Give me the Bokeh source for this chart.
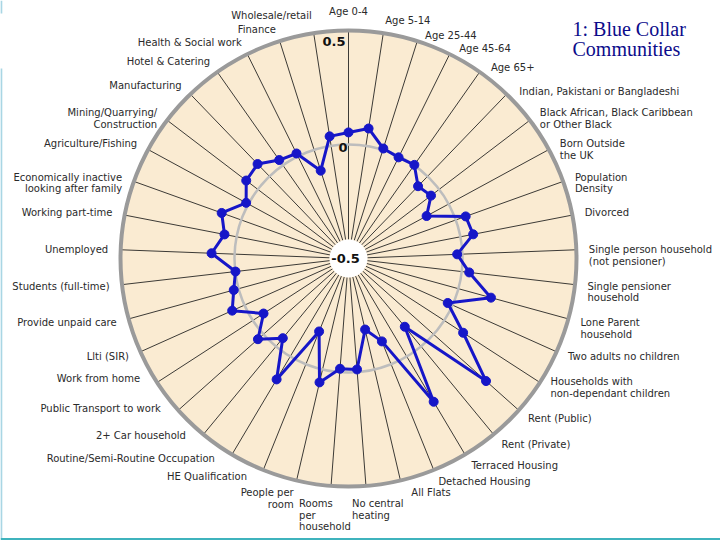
import numpy as np
from bokeh.plotting import figure
from bokeh.models import Range1d
from bokeh.core.properties import value
from bokeh.embed import file_html
from bokeh.resources import INLINE

# ---------------- data ----------------
variables = [
    "Age 0-4", "Age 5-14", "Age 25-44", "Age 45-64", "Age 65+",
    "Indian, Pakistani or Bangladeshi",
    "Black African, Black Caribbean\n or Other Black",
    "Born Outside\n the UK", "Population\nDensity", "Divorced",
    "Single person household\n (not pensioner)",
    "Single pensioner\n household", "Lone Parent\n household",
    "Two adults no children",
    "Households with\nnon-dependant children",
    "Rent (Public)", "Rent (Private)", "Terraced Housing",
    "Detached Housing", "All Flats", "No central\n heating",
    "Rooms\nper\nhousehold", "People per\nroom", "HE Qualification",
    "Routine/Semi-Routine Occupation", "2+ Car household",
    "Public Transport to work", "Work from home", "Llti (SIR)",
    "Provide unpaid care", "Students (full-time)", "Unemployed",
    "Working part-time",
    "Economically inactive\nlooking after family",
    "Agriculture/Fishing", "Mining/Quarrying/\nConstruction",
    "Manufacturing", "Hotel & Catering", "Health & Social work",
    "Finance", "Wholesale/retail",
]
values = [
    0.053, 0.077, 0.006, -0.005, 0.002,
    -0.060, -0.045, -0.110, 0.046, 0.057,
    -0.023, 0.033, 0.148, -0.023, 0.099,
    0.308, -0.112, 0.231, -0.108, -0.180,
    -0.012, -0.015, 0.058, -0.155, 0.117,
    -0.047, 0.032, -0.056, 0.059, 0.022,
    -0.001, 0.101, 0.054, 0.091, 0.011,
    0.064, 0.075, 0.028, 0.014, -0.096,
    0.042,
]
radial_min, radial_max = -0.5, 0.5
radial_ticks = [-0.5, 0, 0.5]
radial_tick_labels = ["-0.5", "0", "0.5"]
title_lines = ["1: Blue Collar", "Communities"]

# ---------------- layout ----------------
W, H = 720, 540
S = 228.0            # pixels per radial unit
CX, CY = 348, 258    # centre of the radar, in figure pixels from top-left


def rad(v):
    return (np.asarray(v, dtype=float) - radial_min) / (radial_max - radial_min)


def px(xr, yr):
    # figure pixel -> data coordinates
    return (xr - CX) / S, (CY - yr) / S


p = figure(width=W, height=H,
           x_range=Range1d(-CX / S, (W - CX) / S),
           y_range=Range1d(-(H - CY) / S, CY / S),
           output_backend="svg", toolbar_location=None, min_border=0)
p.axis.visible = False
p.grid.visible = False
p.outline_line_color = None
p.background_fill_color = "white"
p.border_fill_color = "white"

# slide frame edges
x0, _ = px(0.8, 0)
_, ya = px(0, 0)
_, yb = px(0, 13)
_, yc = px(0, 68)
_, yd = px(0, 538)
p.segment(x0=[x0, x0], y0=[ya, yc], x1=[x0, x0], y1=[yb, yd],
          line_color="#a9d6e4", line_width=2)
xl, _ = px(0, 0)
xr, _ = px(720, 0)
_, ybot = px(0, 538.5)
p.segment(x0=[xl], y0=[ybot], x1=[xr], y1=[ybot], line_color="#3fb3bd",
          line_width=2)

n = len(variables)
theta = np.arange(n) * 2 * np.pi / n
st, ct = np.sin(theta), np.cos(theta)

# disc
p.circle(x=[0], y=[0], radius=float(rad(radial_max)), fill_color="#FAEBD2",
         line_color=None)

# spokes
r_in = 0.083
p.segment(x0=r_in * st, y0=r_in * ct, x1=rad(radial_max) * st,
          y1=rad(radial_max) * ct, line_color="#3c3a36", line_width=1)

# zero ring
p.circle(x=[0], y=[0], radius=float(rad(0)), fill_color=None,
         line_color="#BDBDBD", line_width=2.5)
# outer ring
p.circle(x=[0], y=[0], radius=float(rad(radial_max)), fill_color=None,
         line_color="#9A9A9A", line_width=4)
# centre hole
p.circle(x=[0], y=[0], radius=r_in, fill_color="white", line_color=None)

# data
rv = rad(values)
xs, ys = rv * st, rv * ct
p.line(np.append(xs, xs[0]), np.append(ys, ys[0]), line_color="#1616C8",
       line_width=3)
p.scatter(xs, ys, size=9, fill_color="#1616C8", line_color="#1616C8")

# radial tick labels
tick_style = dict(text_font=value("DejaVu Sans"), text_font_style="bold",
                  text_font_size="13px", text_color="#111111")
p.text(x=[0], y=[float(rad(radial_ticks[0]))], text=[radial_tick_labels[0]],
       text_align="center", text_baseline="middle", x_offset=-3, **tick_style)
p.text(x=[0], y=[float(rad(radial_ticks[1]))], text=[radial_tick_labels[1]],
       text_align="right", text_baseline="middle", x_offset=-1, y_offset=3,
       **tick_style)
p.text(x=[0], y=[float(rad(radial_ticks[2]))], text=[radial_tick_labels[2]],
       text_align="right", text_baseline="middle", x_offset=-3, y_offset=11,
       **tick_style)

# variable labels
LR = 1.055
deg = np.degrees(theta)
for lab, d in zip(variables, deg):
    nl = lab.count("\n")
    a_deg = d + (3 if 200 < d < 245 else 0)
    t = np.radians(a_deg)
    x, y = LR * np.sin(t), LR * np.cos(t)
    xo, yo = 0, 0
    if d < 1:
        al, bl, yo = "center", "bottom", -1
    elif d > 350:
        al, bl = "right", "bottom"
    elif 170 < d < 180:
        al, bl, xo = "left", "top", -15
    elif 180 < d < 190:
        al, bl, xo = "left", "top", -31
    elif d < 180:
        al, bl = "left", "middle"
        yo = 6 * nl
        if 15 < d < 50:
            xo, yo = 4, yo + 6
        if 120 < d < 125:
            yo -= 8
        if 160 < d < 170:
            xo = 8
    else:
        al, bl = "right", "middle"
        yo = 6 * nl
    p.text(x=[x], y=[y], text=[lab], text_align=al, text_baseline=bl,
           x_offset=xo, y_offset=yo,
           text_font=value("DejaVu Sans"), text_font_size="10px",
           text_color="#2a2a2a", text_line_height=1.05)

# title
for i, line in enumerate(title_lines):
    tx, ty = px(572, 28.3 + 20 * i)
    p.text(x=[tx], y=[ty], text=[line], text_align="left",
           text_baseline="alphabetic", text_font=value("Liberation Serif"),
           text_font_size="20px", text_color="#0b0b8a")

open("out.html", "w").write(file_html(p, INLINE))
